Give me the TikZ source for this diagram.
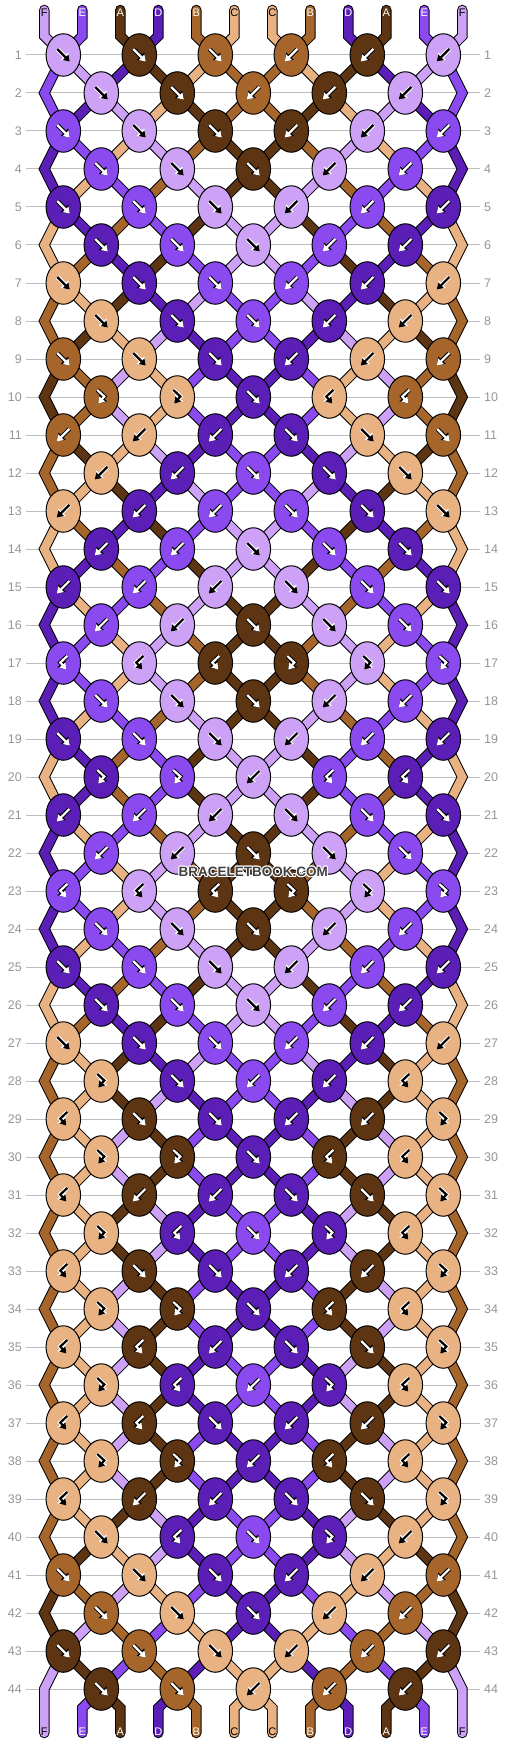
\documentclass[tikz,border=0pt]{standalone}
\usepackage{fontspec}
\setmainfont{Liberation Sans}
\usetikzlibrary{arrows.meta,shapes.geometric}

\definecolor{cF}{HTML}{CDA2F6}
\definecolor{cE}{HTML}{8A4AF0}
\definecolor{cA}{HTML}{5E3513}
\definecolor{cD}{HTML}{5B1FB8}
\definecolor{cB}{HTML}{A5652B}
\definecolor{cC}{HTML}{E8B283}
\definecolor{rowgray}{HTML}{959595}
\definecolor{gridgray}{HTML}{BDBDBD}

% arrow colours per knot colour
\def\inkcF{black}\def\inkcC{black}\def\inkcE{white}\def\inkcA{white}\def\inkcD{white}\def\inkcB{white}
\def\halocF{white}\def\halocC{white}\def\halocE{black}\def\halocA{black}\def\halocD{black}\def\halocB{black}

\pgfdeclarelayer{grid}
\pgfdeclarelayer{rim}
\pgfdeclarelayer{band}
\pgfsetlayers{grid,rim,band,main}

% string state
\newcommand\setstr[2]{\expandafter\xdef\csname str#1\endcsname{#2}}
\newcommand\tieknot[1]{\edef\lstr{\csname str\posa\endcsname}\edef\rstr{\csname str\posb\endcsname}\csname doknot#1\endcsname}
\def\doknotf{\xdef\kcol{\lstr}\setstr\posa\rstr\setstr\posb\lstr}
\def\doknotb{\xdef\kcol{\rstr}\setstr\posa\rstr\setstr\posb\lstr}
\def\doknotfb{\xdef\kcol{\lstr}}
\def\doknotbf{\xdef\kcol{\rstr}}

% strands are collected, then drawn once on their layers
\def\rimcmds{}\def\bandcmds{}
\newcommand\strand[2]{%
  \xdef\rimcmds{\unexpanded\expandafter{\rimcmds}\noexpand\draw[rim] #2;}%
  \xdef\bandcmds{\unexpanded\expandafter{\bandcmds}\noexpand\draw[band,draw=#1] #2;}}
\newcommand\tiedraw[1]{\draw[halo line] #1; \draw[ink line] #1;}

\tikzset{
  knot/.style={ellipse, draw=black, line width=1pt, minimum width=34.5pt, minimum height=42.5pt, inner sep=0pt},
  rim/.style={line width=10.5pt, draw=black, line cap=round, line join=miter},
  band/.style={line width=8.5pt, line cap=round, line join=miter},
  halo line/.style={line width=4.2pt, draw=\halo, line join=miter, -{Triangle[length=7.5pt,width=10pt]}},
  ink line/.style={line width=2.2pt, draw=\ink, line join=miter, -{Triangle[length=6pt,width=7.5pt]}},
  rownum/.style={text=rowgray, font=\fontsize{12.5}{12.5}\selectfont, inner sep=0pt},
  gridline/.style={draw=gridgray, line width=1pt},
  strlbl/.style={font=\fontsize{11}{11}\selectfont, inner sep=0pt},
  tie f/.pic={\tiedraw{(-6,-6) -- (6.5,6.5)}},
  tie b/.pic={\tiedraw{(6,-6) -- (-6.5,6.5)}},
  tie fb/.pic={\tiedraw{(-4,-7) -- (3,-0.5) -- (-3,6.5)}},
  tie bf/.pic={\tiedraw{(4,-7) -- (-3,-0.5) -- (3,6.5)}},
}

\begin{document}
\begin{tikzpicture}[x=1pt,y=-1pt]
%%%%% START %%%%%
\useasboundingbox (0,0) rectangle (506,1744);

% slots, knots, row numbers
\foreach \row in {1,...,44}{
  \pgfmathtruncatemacro\ev{1-mod(\row,2)}
  \pgfmathsetmacro\yy{55+38*(\row-1)}
  \foreach \pos in {1,...,12}{
    \pgfmathsetmacro\cc{\ev==0 ? 2*floor((\pos-1)/2) : (\pos==1 ? -0.5 : (\pos==12 ? 10.5 : 2*floor(\pos/2)-1))}
    \coordinate (s\row-\pos) at ({63.3+38*\cc},\yy);
  }
  \foreach \kn in {1,...,6}{
    \coordinate (k\row-\kn) at ({63.3+38*(2*\kn-2+\ev)},\yy);
  }
  \node[rownum, anchor=east] (ln\row) at (22,\yy) {\row};
  \node[rownum, anchor=west] (rn\row) at (484,\yy) {\row};
}
\begin{pgfonlayer}{grid}
  \foreach \row in {1,...,44}
    \draw[gridline, shorten <=4pt, shorten >=4pt] (ln\row.east) -- (rn\row.west);
\end{pgfonlayer}

% string ends and letters
\foreach \pos/\s in {1/F,2/E,3/A,4/D,5/B,6/C,7/C,8/B,9/D,10/A,11/E,12/F}{
  \setstr{\pos}{c\s}
  \coordinate (t\pos) at ({44.3+38*(\pos-1)},10);
  \coordinate (j\pos) at ({44.3+38*(\pos-1)},36);
  \coordinate (f\pos) at ({44.3+38*(\pos-1)},1708);
  \coordinate (e\pos) at ({44.3+38*(\pos-1)},1733);
  \strand{c\s}{(t\pos) -- (j\pos) -- (s1-\pos)}
  \node[strlbl, text=\csname inkc\s\endcsname] (top\pos) at ({44.3+38*(\pos-1)},12.7) {\s};
  \node[strlbl, text=\csname inkc\s\endcsname] (bot\pos) at ({44.3+38*(\pos-1)},1732) {\s};
}

% knots row by row
\foreach \row/\ties in {
  1/{f,f,f,b,b,b}, 2/{f,f,b,b,b}, 3/{f,f,f,b,b,b}, 4/{f,f,f,b,b},
  5/{f,f,f,b,b,b}, 6/{f,f,f,b,b}, 7/{f,f,f,b,b,b}, 8/{f,f,f,b,b},
  9/{f,f,f,b,b,b}, 10/{fb,fb,f,bf,bf}, 11/{b,b,b,f,f,f}, 12/{b,b,f,f,f},
  13/{b,b,b,f,f,f}, 14/{b,b,f,f,f}, 15/{b,b,b,f,f,f}, 16/{b,b,f,f,f},
  17/{bf,bf,bf,fb,fb,fb}, 18/{f,f,f,b,b}, 19/{f,f,f,b,b,b}, 20/{fb,fb,b,bf,bf},
  21/{b,b,b,f,f,f}, 22/{b,b,f,f,f}, 23/{bf,bf,bf,fb,fb,fb}, 24/{f,f,f,b,b},
  25/{f,f,f,b,b,b}, 26/{f,f,f,b,b}, 27/{f,f,f,b,b,b}, 28/{fb,f,b,b,bf},
  29/{bf,f,f,b,b,fb}, 30/{fb,fb,f,bf,bf}, 31/{bf,b,b,f,f,fb}, 32/{fb,bf,f,fb,bf},
  33/{bf,f,f,b,b,fb}, 34/{fb,fb,f,bf,bf}, 35/{bf,bf,b,f,f,fb}, 36/{fb,bf,b,fb,bf},
  37/{bf,bf,f,b,b,fb}, 38/{fb,fb,b,bf,bf}, 39/{bf,b,b,f,f,fb}, 40/{f,bf,f,fb,b},
  41/{f,f,f,b,b,b}, 42/{f,f,f,b,b}, 43/{f,f,f,b,b,b}, 44/{f,f,b,b,b}}{
  \pgfmathtruncatemacro\ev{1-mod(\row,2)}
  \pgfmathtruncatemacro\rn{\row+1}
  \pgfmathtruncatemacro\rnn{\row+2}
  \foreach \ty [count=\kn] in \ties {
    \edef\posa{\the\numexpr2*\kn-1+\ev\relax}
    \edef\posb{\the\numexpr2*\kn+\ev\relax}
    \tieknot{\ty}
    \edef\ink{\csname ink\kcol\endcsname}
    \edef\halo{\csname halo\kcol\endcsname}
    \node[knot, fill=\kcol] (n\row-\kn) at (k\row-\kn) {};
    \pic at (n\row-\kn) {tie \ty};
  }
  \ifnum\row<44
  \foreach \pos in {1,...,12}{
    \edef\sc{\csname str\pos\endcsname}
    \pgfmathtruncatemacro\edge{(\pos==1)||(\pos==12)}
    \ifnum\edge=0
      \strand{\sc}{(s\row-\pos) -- (s\rn-\pos)}
    \else\ifnum\ev=0
      \ifnum\row<43
        \strand{\sc}{(s\row-\pos) -- (s\rn-\pos) -- (s\rnn-\pos)}
      \else
        \strand{\sc}{(s\row-\pos) -- (s\rn-\pos) -- (e\pos)}
      \fi
    \fi\fi
  }
  \fi
}

% bottom ends
\foreach \pos in {2,...,11}{
  \edef\sc{\csname str\pos\endcsname}
  \strand{\sc}{(s44-\pos) -- (f\pos) -- (e\pos)}
}

\begin{pgfonlayer}{rim}\rimcmds\end{pgfonlayer}
\begin{pgfonlayer}{band}\bandcmds\end{pgfonlayer}

% logo
\foreach \dx/\dy in {-1/0,1/0,0/-1,0/1,-0.7/-0.7,0.7/0.7,-0.7/0.7,0.7/-0.7}{
  \node[font=\bfseries\fontsize{13.5}{14}\selectfont, text=white] at (253.3+\dx,872+\dy) {BRACELETBOOK.COM};
}
\node[font=\bfseries\fontsize{13.5}{14}\selectfont, text=black!75] (logo) at (253.3,872) {BRACELETBOOK.COM};
%%%%% END %%%%%
\end{tikzpicture}
\end{document}
